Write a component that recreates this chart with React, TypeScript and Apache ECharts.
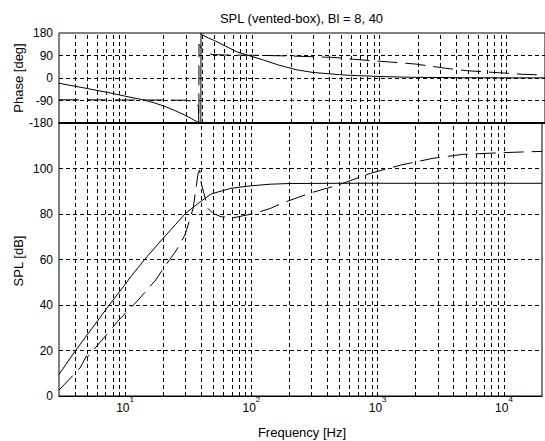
import React, { useEffect, useRef } from 'react';
import * as echarts from 'echarts';

const FONT = '"Liberation Sans", Arial, Helvetica, sans-serif';

// Phase response, Bl = 40 (solid)
const phaseFreqA = [3, 5, 8, 10, 14, 17, 20, 24.2, 28.9, 33, 36.5, 39.2, 39.3, 40, 45, 50, 60, 75, 93, 122, 160, 221, 300, 562, 1000, 1715, 5000, 20000];
const phaseA = [-21, -42, -62, -73, -88, -100, -112, -129, -147, -162, -175, -180, 180, 173, 160, 150, 130, 105, 90, 72, 52, 33, 22, 11, 6, 3, 1, 0.5];

// Phase response, Bl = 8 (dashed)
const phaseFreqB = [3, 10, 20, 30, 34, 36.5, 37.5, 37.8, 37.9, 40, 43, 48, 60, 100, 200, 300, 445, 615, 1200, 1900, 3300, 4900, 8800, 13100, 20000];
const phaseB = [-87, -88, -88, -89, -93, -103, -115, -180, 135, 118, 102, 94, 92, 91, 88, 85, 82, 75, 64, 56, 39, 29, 21, 15, 12];

// SPL, Bl = 40 (solid)
const splFreqA = [3, 4, 5, 6, 7.5, 10, 11.3, 15, 19.5, 25, 29.8, 38, 48, 69, 99, 142, 200, 500, 20000];
const splA = [9.5, 19.5, 26.8, 32.7, 40, 49, 53, 61.4, 68.6, 75.3, 80, 84.7, 88.8, 91.3, 92.4, 93.1, 93.4, 93.5, 93.5];

// SPL, Bl = 8 (dashed)
const splFreqB = [3, 4.4, 4.95, 5.05, 5.2, 7.5, 8.7, 12.9, 14.9, 17.5, 21, 25.6, 29.8, 31.6, 34.6, 37.9, 39, 40.1, 45.3, 49.6, 57.5, 73, 93, 111, 142, 174, 300, 484, 880, 1520, 2750, 4700, 9100, 16500, 20000];
const splB = [2.6, 12.3, 17.6, 17.2, 18.0, 28.3, 32.7, 42.6, 46.6, 51, 57.5, 64.2, 70.8, 75.2, 82.5, 97.9, 99.3, 93.5, 82.5, 80.3, 78.8, 78.4, 79.6, 80.6, 82.5, 84.7, 89.4, 92.7, 97.9, 101.5, 104.5, 106.2, 106.9, 107.4, 107.5];

// Axis ranges and grid values
const freqMin = 3;
const freqMax = 20000;
const decades = [1, 10, 100, 1000, 10000];
const mantissas = [1, 2, 3, 4, 5, 6, 7, 8, 9];
const phaseTicks = [-90, 0, 90];
const splTicks = [20, 40, 60, 80, 100];

const gridFreqs = decades
  .flatMap((d) => mantissas.map((m) => m * d))
  .filter((f) => f > freqMin && f < freqMax);

const zip = (f: number[], v: number[]) => f.map((x, i) => [x, v[i]]);

const gridLineStyle = { color: '#000', width: 1, type: [4, 3] as number[] };

function gridSeries(xi: number, hValues: number[]) {
  return {
    type: 'line',
    xAxisIndex: xi,
    yAxisIndex: xi,
    data: [],
    z: 1,
    silent: true,
    markLine: {
      silent: true,
      symbol: ['none', 'none'],
      label: { show: false },
      lineStyle: gridLineStyle,
      emphasis: { disabled: true },
      data: [
        ...gridFreqs.map((f) => ({ xAxis: f })),
        ...hValues.map((v) => ({ yAxis: v })),
      ],
    },
  };
}

function curve(xi: number, data: number[][], dashed: boolean) {
  return {
    type: 'line',
    xAxisIndex: xi,
    yAxisIndex: xi,
    data,
    z: 3,
    symbol: 'none',
    showSymbol: false,
    silent: true,
    lineStyle: { color: '#000', width: 1, type: dashed ? [20, 8] : 'solid' },
  };
}

function decadeLabel(v: number) {
  const e = Math.log10(v);
  const k = Math.round(e);
  if (Math.abs(e - k) > 1e-6) return '';
  return `{b|10}{s|${k}}`;
}

export default function App() {
  const ref = useRef<HTMLDivElement>(null);

  useEffect(() => {
    const chart = echarts.init(ref.current!, null, { renderer: 'svg' });
    const plotLeft = 59;
    const plotWidth = 489.5;

    const option: any = {
      animation: false,
      backgroundColor: '#fff',
      grid: [
        { left: plotLeft, top: 33, width: plotWidth, height: 90, show: true, borderColor: '#000', borderWidth: 1 },
        { left: plotLeft, top: 123, width: plotWidth, height: 273, show: true, borderColor: '#000', borderWidth: 1 },
      ],
      xAxis: [
        {
          gridIndex: 0,
          type: 'log',
          logBase: 10,
          min: freqMin,
          max: freqMax,
          axisLine: { show: true, onZero: false, lineStyle: { color: '#000', width: 2 } },
          axisTick: { show: false },
          axisLabel: { show: false },
          splitLine: { show: false },
        },
        {
          gridIndex: 1,
          type: 'log',
          logBase: 10,
          min: freqMin,
          max: freqMax,
          axisLine: { show: true, onZero: false, lineStyle: { color: '#000', width: 1 } },
          axisTick: { show: false },
          splitLine: { show: false },
          axisLabel: {
            margin: 4.5,
            formatter: decadeLabel,
            rich: {
              b: { fontSize: 12, fontFamily: FONT, color: '#000', lineHeight: 14 },
              s: { fontSize: 8, fontFamily: FONT, color: '#000', lineHeight: 8, padding: [0, 0, 17, 0] },
            },
          },
        },
      ],
      yAxis: [
        {
          gridIndex: 0,
          type: 'value',
          min: -180,
          max: 180,
          interval: 90,
          axisLine: { show: false },
          axisTick: { show: false },
          splitLine: { show: false },
          axisLabel: { margin: 6, color: '#000', fontSize: 12, fontFamily: FONT },
        },
        {
          gridIndex: 1,
          type: 'value',
          min: 0,
          max: 120,
          interval: 20,
          axisLine: { show: false },
          axisTick: { show: false },
          splitLine: { show: false },
          axisLabel: {
            margin: 6,
            color: '#000',
            fontSize: 12,
            fontFamily: FONT,
            formatter: (v: number) => (v === 120 ? '' : String(v)),
          },
        },
      ],
      series: [
        gridSeries(0, phaseTicks),
        gridSeries(1, splTicks),
        curve(0, zip(phaseFreqA, phaseA), false),
        curve(0, zip(phaseFreqB, phaseB), true),
        curve(1, zip(splFreqA, splA), false),
        curve(1, zip(splFreqB, splB), true),
      ],
      graphic: [
        {
          type: 'text',
          x: 301.5,
          y: 18,
          style: { text: 'SPL (vented-box), Bl = 8, 40', fill: '#000', font: `13px ${FONT}`, textAlign: 'center', textVerticalAlign: 'middle' },
        },
        {
          type: 'text',
          x: 302,
          y: 432,
          style: { text: 'Frequency [Hz]', fill: '#000', font: `13px ${FONT}`, textAlign: 'center', textVerticalAlign: 'middle' },
        },
        {
          type: 'text',
          x: 18,
          y: 78,
          rotation: Math.PI / 2,
          style: { text: 'Phase [deg]', fill: '#000', font: `13px ${FONT}`, textAlign: 'center', textVerticalAlign: 'middle' },
        },
        {
          type: 'text',
          x: 18,
          y: 261,
          rotation: Math.PI / 2,
          style: { text: 'SPL [dB]', fill: '#000', font: `13px ${FONT}`, textAlign: 'center', textVerticalAlign: 'middle' },
        },
      ],
    };

    chart.setOption(option);
    return () => chart.dispose();
  }, []);

  return (
    <div
      ref={ref}
      style={{ position: 'absolute', left: 0, top: 0, width: 545, height: 441 }}
    />
  );
}
